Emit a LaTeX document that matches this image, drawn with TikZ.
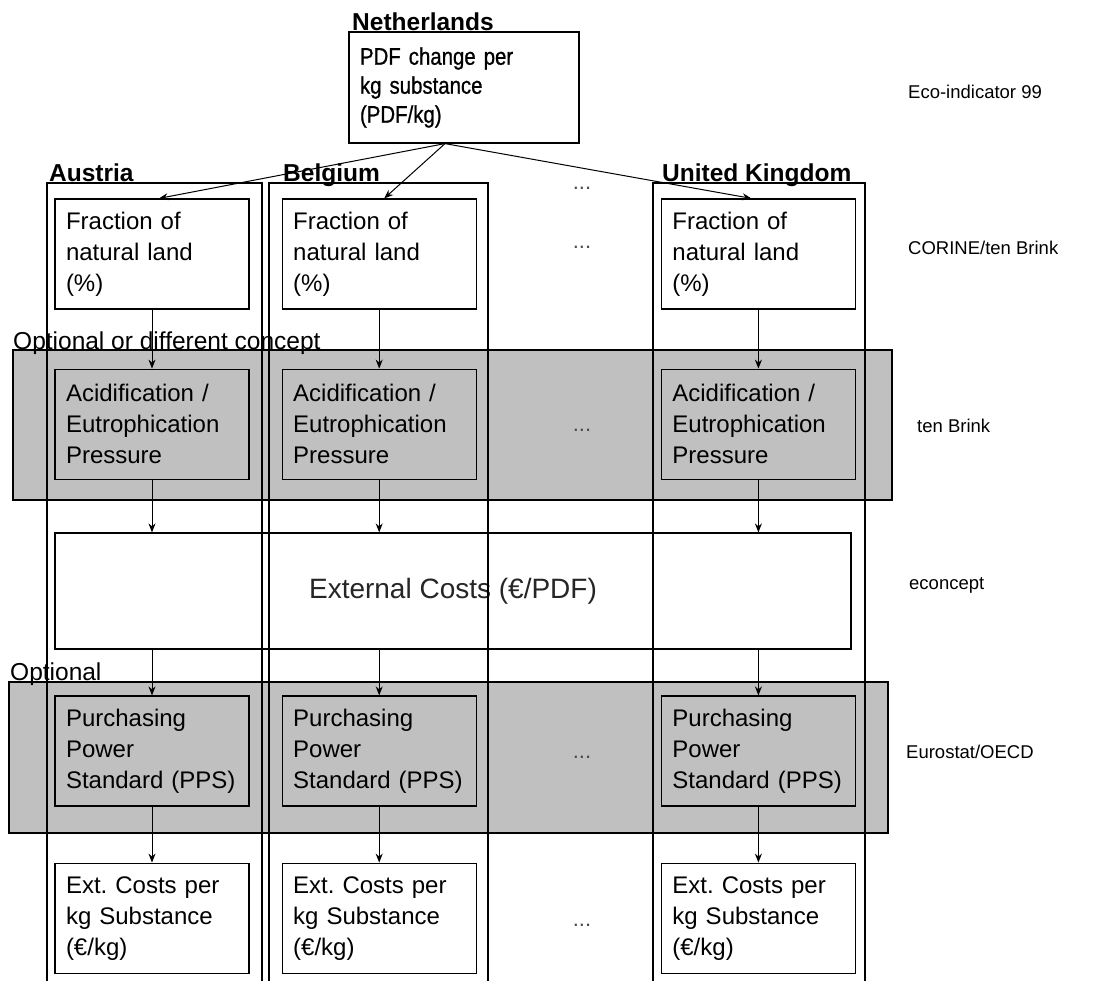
\documentclass[tikz,border=0pt]{standalone}
\usepackage{fontspec}
\setmainfont{Liberation Sans}
\newfontfamily\narrowfont[FakeStretch=0.85, FakeBold=0.8]{Liberation Sans}
\usetikzlibrary{positioning, arrows.meta}

\definecolor{bandgray}{RGB}{192,192,192}

\begin{document}
\begin{tikzpicture}[
        x=1pt, y=-1pt,
        box/.style={rectangle, draw, line width=1.2pt, fill=white, minimum width=194pt, minimum height=110pt, text width=172pt, inner sep=10pt, align=left, font=\fontsize{24}{31}\selectfont},
        greybox/.style={box, fill=bandgray},
        band/.style={draw, line width=1.2pt, fill=bandgray},
        frame/.style={draw, line width=1.2pt},
        head/.style={anchor=base west, inner sep=0pt, font=\fontsize{24.5}{29}\selectfont\bfseries},
        bandlabel/.style={anchor=base west, inner sep=0pt, font=\fontsize{24.5}{29}\selectfont},
        source/.style={anchor=west, inner sep=0pt, font=\fontsize{18.5}{22}\selectfont},
        dots/.style={inner sep=0pt, text=black!70, font=\fontsize{22}{22}\selectfont},
        arrow/.style={line width=1pt, -{Stealth[length=9pt, width=7pt]}}
    ]
        \clip (0,0) rectangle (1111,980);

        % Grey bands (optional steps)
        \draw[band] (13,350) rectangle (892,500);
        \draw[band] (9,682) rectangle (888,833);
        \node[bandlabel] (optconcept) at (13,349) {Optional or different concept};
        \node[bandlabel] (optional) at (10,680) {Optional};

        % Top (Netherlands)
        \node[box, minimum width=230pt, minimum height=111pt, text width=208pt, font=\narrowfont\fontsize{24}{29}\selectfont] (nl) at (464,87.5) {PDF change per\\kg substance\\(PDF/kg)};
        \node[head] (netherlands) at (352,30) {Netherlands};

        % Country columns
        \node[box] (fracA) at (152,254) {Fraction of\\natural land\\(\%)};
        \node[box, right=32pt of fracA] (fracB) {Fraction of\\natural land\\(\%)};
        \node[box, right=184pt of fracB] (fracC) {Fraction of\\natural land\\(\%)};

        \node[greybox, below=59pt of fracA] (acidA) {Acidification /\\Eutrophication\\Pressure};
        \node[greybox, below=59pt of fracB] (acidB) {Acidification /\\Eutrophication\\Pressure};
        \node[greybox, below=59pt of fracC] (acidC) {Acidification /\\Eutrophication\\Pressure};

        \node[box, minimum width=796pt, minimum height=116pt, text width=, align=center, text=black!85, font=\fontsize{28}{32}\selectfont] (ext) at (453,591) {External Costs (€/PDF)};

        \node[greybox] (ppsA) at (152,751) {Purchasing\\Power\\Standard (PPS)};
        \node[greybox, right=32pt of ppsA] (ppsB) {Purchasing\\Power\\Standard (PPS)};
        \node[greybox, right=184pt of ppsB] (ppsC) {Purchasing\\Power\\Standard (PPS)};

        \node[box, below=56pt of ppsA] (extcA) {Ext.\ Costs per\\kg Substance\\(€/kg)};
        \node[box, below=56pt of ppsB] (extcB) {Ext.\ Costs per\\kg Substance\\(€/kg)};
        \node[box, below=56pt of ppsC] (extcC) {Ext.\ Costs per\\kg Substance\\(€/kg)};

        % Column frames
        \draw[frame] (47,1000) -- (47,183) -- (262,183) -- (262,1000);
        \draw[frame] (269,1000) -- (269,183) -- (488,183) -- (488,1000);
        \draw[frame] (653,1000) -- (653,183) -- (865,183) -- (865,1000);
        \node[head] (austria) at (49,181) {Austria};
        \node[head] (belgium) at (283,181) {Belgium};
        \node[head] (uk) at (662,181) {United Kingdom};

        % Omitted countries
        \node[dots] (dots1) at (582,188) {...};
        \node[dots] (dots2) at (582,247) {...};
        \node[dots] (dots3) at (582,430) {...};
        \node[dots] (dots4) at (582,757) {...};
        \node[dots] (dots5) at (582,925) {...};

        % Sources
        \node[source] (eco) at (908,92) {Eco-indicator 99};
        \node[source] (corine) at (908,248) {CORINE/ten Brink};
        \node[source] (tenbrink) at (917,426) {ten Brink};
        \node[source] (econcept) at (909,585) {econcept};
        \node[source] (eurostat) at (906,752) {Eurostat/OECD};

        % Edges
        \draw[arrow] ([xshift=-19pt]nl.south) -- ([xshift=7pt]fracA.north);
        \draw[arrow] ([xshift=-19pt]nl.south) -- ([xshift=5pt]fracB.north);
        \draw[arrow] ([xshift=-19pt]nl.south) -- ([xshift=-7pt]fracC.north);
        \foreach \c in {A,B,C} {
            \draw[arrow] (frac\c) -- (acid\c);
            \draw[arrow] (acid\c) -- (acid\c.south |- ext.north);
            \draw[arrow] (ext.south -| pps\c.north) -- (pps\c);
            \draw[arrow] (pps\c) -- (extc\c);
        }
    \end{tikzpicture}
\end{document}
